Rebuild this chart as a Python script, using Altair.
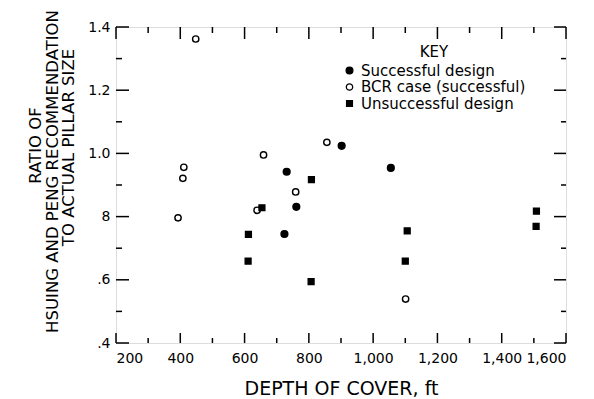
import altair as alt
import pandas as pd

# ---- data ----
categories = ["Successful design", "BCR case (successful)", "Unsuccessful design"]

succ_x = [731, 902, 1055, 761, 724]
succ_y = [0.942, 1.024, 0.954, 0.831, 0.745]

bcr_x = [448, 411, 408, 393, 659, 639, 856, 759, 1101]
bcr_y = [1.362, 0.956, 0.921, 0.796, 0.995, 0.820, 1.035, 0.878, 0.539]

fail_x = [654, 612, 611, 808, 807, 1106, 1100, 1508, 1507]
fail_y = [0.828, 0.744, 0.659, 0.917, 0.594, 0.755, 0.659, 0.817, 0.769]

x_major = [200, 400, 600, 800, 1000, 1200, 1400, 1600]
x_minor = [300, 500, 700, 900, 1100, 1300, 1500]
y_major = [0.4, 0.6, 0.8, 1.0, 1.2, 1.4]
y_minor = [0.5, 0.7, 0.9, 1.1, 1.3]
y_label_texts = [".4", ".6", "8", "1.0", "1.2", "1.4"]

x_title = "DEPTH OF COVER, ft"
y_title_lines = ["RATIO OF", "HSUING AND PENG RECOMMENDATION", "TO ACTUAL PILLAR SIZE"]

rows = []
for xs_, ys_, cat in [(succ_x, succ_y, categories[0]),
                      (bcr_x, bcr_y, categories[1]),
                      (fail_x, fail_y, categories[2])]:
    for a, b in zip(xs_, ys_):
        rows.append({"depth": a, "ratio": b, "type": cat})
df = pd.DataFrame(rows)

W, H = 450, 316
FONT = "DejaVu Sans"
YT = 16.5

xscale = alt.Scale(domain=[200, 1600], nice=False, zero=False)
yscale = alt.Scale(domain=[0.4, 1.4], nice=False, zero=False)

label_expr = " : ".join(
    [f"abs(datum.value - {v}) < 0.001 ? '{t}'" for v, t in zip(y_major, y_label_texts)]
) + " : ''"

legend = alt.Legend(
    orient="none", legendX=226, legendY=18, title="KEY",
    titleFontSize=15, titleFontWeight="normal", titleFont=FONT, titleColor="black",
    titleAnchor="middle", titlePadding=3, labelLimit=0,
    labelFontSize=15, labelFont=FONT, labelColor="black", labelOffset=4,
    padding=0, rowPadding=0.5, symbolStrokeWidth=1.3,
)

cat_scale = lambda rng: alt.Scale(domain=categories, range=rng)

points = alt.Chart(df).mark_point(filled=True, strokeWidth=1.4, opacity=1).encode(
    x=alt.X("depth:Q", scale=xscale, axis=alt.Axis(
        orient="bottom", values=x_major, format=",d", ticks=False, tickSize=0, domain=False, grid=False,
        labelFontSize=14, labelFont=FONT, labelColor="black", labelPadding=19, labelBaseline="alphabetic",
        labelOverlap=False,
        title=x_title, titleFontSize=19, titleFont=FONT, titleFontWeight="normal", titleColor="black",
        titleX=W / 2, titleY=51, titleBaseline="alphabetic", titleAlign="center")),
    y=alt.Y("ratio:Q", scale=yscale, axis=alt.Axis(
        orient="left", values=y_major, labelExpr=label_expr, ticks=False, tickSize=0, domain=False, grid=False,
        labelFontSize=14, labelFont=FONT, labelColor="black", labelPadding=6, labelOverlap=False,
        title=y_title_lines[1], titleFontSize=YT, titleFont=FONT, titleFontWeight="normal", titleColor="black",
        titleAngle=270, titleX=-64, titleY=144, titleAlign="center", titleBaseline="middle")),
    shape=alt.Shape("type:N", scale=cat_scale(["circle", "circle", "square"]), legend=legend),
    fill=alt.Fill("type:N", scale=cat_scale(["black", "white", "black"]), legend=legend),
    stroke=alt.Stroke("type:N", scale=cat_scale(["black", "black", "black"]), legend=legend),
    size=alt.Size("type:N", scale=cat_scale([46, 34, 58]), legend=legend),
)

# second pair of axes: only carry the two other title lines of the y-axis title
titles = alt.Chart(df).mark_point(opacity=0).encode(
    x=alt.X("depth:Q", scale=xscale, axis=alt.Axis(
        orient="top", labels=False, ticks=False, domain=False, grid=False,
        title=y_title_lines[0], titleFontSize=YT, titleFont=FONT, titleFontWeight="normal", titleColor="black",
        titleAngle=270, titleX=-81, titleY=118, titleAlign="center", titleBaseline="middle")),
    y=alt.Y("ratio:Q", scale=yscale, axis=alt.Axis(
        orient="right", labels=False, ticks=False, domain=False, grid=False,
        title=y_title_lines[2], titleFontSize=YT, titleFont=FONT, titleFontWeight="normal", titleColor="black",
        titleAngle=270, titleX=-48 - W, titleY=120, titleAlign="center", titleBaseline="middle")),
)


# inward tick marks on all four edges, positioned through the shared scales
def x_ticks(values, y0, y1):
    return alt.Chart(pd.DataFrame({"v": values})).mark_rule(stroke="black", strokeWidth=1.5).encode(
        x=alt.X("v:Q", scale=xscale, axis=None), y=alt.value(y0), y2=alt.value(y1))


def y_ticks(values, x0, x1):
    return alt.Chart(pd.DataFrame({"v": values})).mark_rule(stroke="black", strokeWidth=1.5).encode(
        y=alt.Y("v:Q", scale=yscale, axis=None), x=alt.value(x0), x2=alt.value(x1))


tick_layers = [
    x_ticks(x_major, H, H - 10), x_ticks(x_minor, H, H - 5),
    x_ticks(x_major, 0, 12), x_ticks(x_minor, 0, 6),
    y_ticks(y_major, 0, 13), y_ticks(y_minor, 0, 6),
    y_ticks(y_major, W, W - 12), y_ticks(y_minor, W, W - 5),
]

chart = alt.layer(points, titles, *tick_layers).resolve_axis(
    x="independent", y="independent"
).properties(
    width=W, height=H,
    autosize=alt.AutoSizeParams(type="none"),
    padding={"left": 116, "top": 27, "right": 28, "bottom": 56},
    background="white",
).configure_view(
    stroke="black", strokeWidth=1.6
).configure(font=FONT)

chart.save("out.html", embed_options={"renderer": "svg", "actions": False})
